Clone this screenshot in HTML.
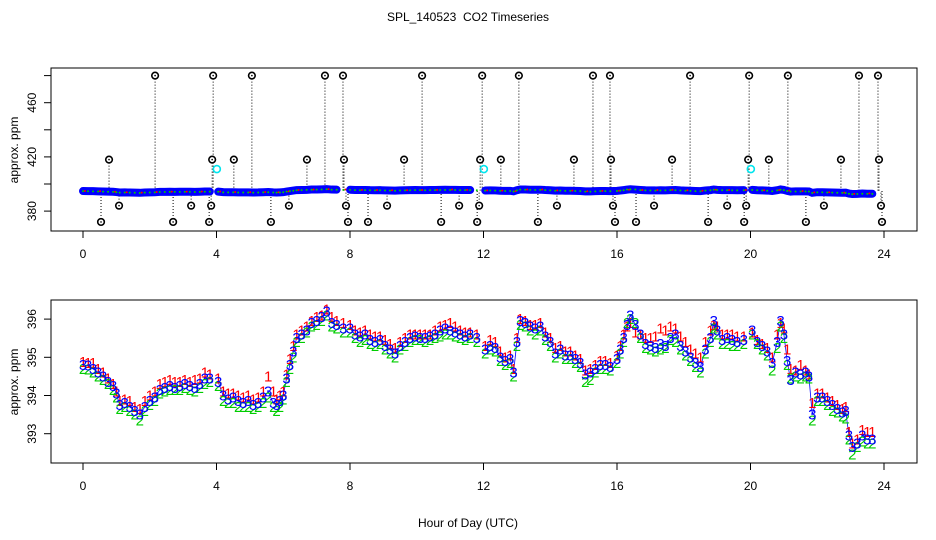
<!DOCTYPE html>
<html><head><meta charset="utf-8"><style>
html,body{margin:0;padding:0;background:#fff;}
svg{display:block;font-family:"Liberation Sans",sans-serif;}
</style></head><body>
<svg id="c" width="936" height="540" viewBox="0 0 936 540">
<text x="468" y="21" font-size="12" text-anchor="middle">SPL_140523&#160; CO2 Timeseries</text>
<text x="468" y="527" font-size="12" text-anchor="middle">Hour of Day (UTC)</text>
<text transform="translate(18,150) rotate(-90)" font-size="12" text-anchor="middle">approx. ppm</text>
<text transform="translate(18,382) rotate(-90)" font-size="12" text-anchor="middle">approx. ppm</text>
<g id="topPanel"></g>
<g id="botPanel"></g>
</svg>
<script>
const hours=[0,0.15,0.3,0.45,0.6,0.75,0.9,1.0,1.1,1.25,1.4,1.55,1.7,1.85,2.0,2.15,2.3,2.45,2.6,2.75,2.9,3.05,3.2,3.35,3.5,3.65,3.8,
4.05,4.2,4.35,4.5,4.65,4.8,4.95,5.1,5.25,5.4,5.55,5.7,5.8,5.9,6.0,6.1,6.2,6.3,6.4,6.55,6.7,6.85,7.0,7.15,7.3,7.45,7.6,7.8,
8.0,8.15,8.3,8.45,8.6,8.75,8.9,9.05,9.2,9.35,9.5,9.65,9.8,9.95,10.1,10.25,10.4,10.55,10.7,10.85,11.0,11.15,11.3,11.45,11.6,11.8,
12.05,12.2,12.35,12.5,12.65,12.8,12.9,13.0,13.1,13.25,13.4,13.55,13.7,13.85,14.0,14.15,14.3,14.45,14.6,14.75,14.9,15.05,15.2,15.35,15.5,15.65,15.8,
16.0,16.1,16.2,16.3,16.4,16.55,16.7,16.85,17.0,17.15,17.3,17.45,17.6,17.75,17.9,18.05,18.2,18.35,18.5,18.65,18.8,18.9,19.0,19.15,19.3,19.45,19.6,19.8,
20.05,20.2,20.35,20.5,20.65,20.8,20.9,21.0,21.1,21.2,21.35,21.5,21.65,21.75,21.85,22.0,22.15,22.3,22.45,22.6,22.75,22.85,22.95,23.05,23.2,23.35,23.5,23.65];
const sensor3=[394.8,394.78,394.7,394.6,394.5,394.35,394.25,394.05,393.75,393.8,393.7,393.6,393.5,393.7,393.85,393.95,394.15,394.2,394.25,394.2,394.25,394.3,394.25,394.2,394.3,394.45,394.45,
394.35,394.0,393.9,393.95,393.85,393.8,393.85,393.75,393.8,393.95,394.1,393.8,393.75,393.85,394.0,394.45,394.8,395.15,395.5,395.6,395.7,395.9,395.95,396.05,396.2,395.9,395.85,395.75,
395.75,395.6,395.55,395.6,395.45,395.4,395.45,395.3,395.2,395.1,395.3,395.4,395.5,395.55,395.5,395.5,395.55,395.6,395.7,395.75,395.7,395.65,395.6,395.55,395.6,395.5,
395.2,395.3,395.25,395.0,394.9,394.95,394.6,395.4,395.95,395.9,395.8,395.75,395.8,395.55,395.4,395.1,395.2,395.05,395.05,394.95,394.85,394.55,394.6,394.7,394.8,394.8,394.75,
394.95,395.2,395.5,395.85,396.1,395.85,395.6,395.35,395.3,395.25,395.35,395.3,395.5,395.6,395.3,395.15,395.0,394.85,394.75,395.2,395.5,395.95,395.7,395.45,395.5,395.45,395.4,395.45,
395.7,395.4,395.3,395.15,394.85,395.4,395.95,395.6,394.9,394.4,394.6,394.55,394.6,394.5,393.5,393.95,393.95,393.85,393.75,393.65,393.55,393.6,392.95,392.65,392.75,392.95,392.85,392.85];
const sensor1=[394.88,394.85,394.85,394.7,394.6,394.45,394.3,394.1,393.85,393.9,393.85,393.7,393.65,393.85,394.0,394.1,394.3,394.35,394.4,394.35,394.35,394.4,394.35,394.4,394.45,394.6,394.55,
394.45,394.1,394.05,394.05,394.0,393.95,394.0,393.9,393.95,394.1,394.5,394.1,393.9,394.0,394.1,394.55,394.95,395.3,395.6,395.7,395.8,395.95,396.05,396.1,396.25,396.05,395.95,395.9,
395.85,395.7,395.65,395.7,395.6,395.55,395.55,395.45,395.35,395.25,395.4,395.5,395.6,395.6,395.6,395.6,395.6,395.7,395.8,395.85,395.9,395.8,395.7,395.65,395.65,395.6,
395.3,395.45,395.4,395.15,395.0,395.05,394.7,395.5,396.0,395.95,395.85,395.85,395.9,395.65,395.5,395.25,395.3,395.15,395.15,395.05,394.95,394.65,394.7,394.8,394.9,394.9,394.85,
395.05,395.3,395.6,395.8,395.9,395.65,395.6,395.5,395.5,395.55,395.75,395.7,395.8,395.75,395.55,395.4,395.2,395.1,395.0,395.4,395.7,395.85,395.8,395.6,395.6,395.6,395.55,395.55,
395.65,395.45,395.35,395.25,395.0,395.6,395.9,395.75,395.2,394.7,394.65,394.8,394.65,394.55,393.8,394.05,394.05,393.95,393.85,393.75,393.65,393.7,393.05,392.75,392.85,393.1,393.05,393.05];
const sensor2=[394.7,394.68,394.6,394.5,394.4,394.3,394.15,393.95,393.65,393.7,393.6,393.5,393.35,393.6,393.75,393.85,394.05,394.1,394.15,394.15,394.15,394.2,394.15,394.1,394.2,394.3,394.35,
394.25,393.85,393.8,393.8,393.7,393.7,393.7,393.65,393.7,393.8,393.95,393.7,393.6,393.7,393.9,394.35,394.7,395.0,395.4,395.5,395.65,395.8,395.85,395.95,396.1,395.8,395.75,395.65,
395.65,395.5,395.4,395.45,395.35,395.3,395.35,395.2,395.1,395.0,395.2,395.3,395.4,395.45,395.45,395.4,395.45,395.5,395.55,395.6,395.6,395.55,395.5,395.45,395.5,395.4,
395.1,395.2,395.15,394.9,394.8,394.85,394.5,395.3,395.85,395.8,395.7,395.6,395.7,395.45,395.3,395.0,395.1,394.95,394.95,394.85,394.75,394.35,394.4,394.6,394.7,394.7,394.65,
394.85,395.1,395.4,395.9,396.0,395.9,395.5,395.25,395.2,395.15,395.2,395.25,395.45,395.4,395.2,395.05,394.9,394.75,394.6,395.1,395.4,395.75,395.6,395.35,395.35,395.3,395.3,395.35,
395.6,395.35,395.2,395.05,394.65,395.25,395.8,395.5,394.8,394.45,394.5,394.45,394.5,394.45,393.35,393.85,393.85,393.75,393.6,393.55,393.45,393.4,392.85,392.45,392.65,392.8,392.75,392.75];
const outlierHours=[2.16,3.9,5.06,7.25,7.79,10.16,11.96,13.06,15.28,15.79,18.19,19.96,21.12,23.25,23.82,
0.78,3.87,4.52,6.71,7.82,9.62,11.9,12.52,14.71,15.82,17.65,19.93,20.55,22.71,23.85,
1.08,3.24,3.84,6.17,7.88,9.11,11.27,11.87,14.2,15.88,17.11,19.3,19.87,22.2,23.91,
0.54,2.7,3.78,5.63,7.94,8.54,10.73,11.81,13.63,15.94,16.57,18.73,19.81,21.66,23.94];
const outlierValues=[480,480,480,480,480,480,480,480,480,480,480,480,480,480,480,
418,418,418,418,418,418,418,418,418,418,418,418,418,418,418,
384,384,384,384,384,384,384,384,384,384,384,384,384,384,384,
372,372,372,372,372,372,372,372,372,372,372,372,372,372,372];
const flagHours=[4.01,12.01,20.01];
const flagValues=[411,411,411];
const xTicks=[0,4,8,12,16,20,24];
const topYTicks=[380,400,420,440,460,480];
const topYLabels=["380","","420","","460",""];
const botYTicks=[393,394,395,396];

const NS="http://www.w3.org/2000/svg";
function mk(tag,attrs,parent){const e=document.createElementNS(NS,tag);for(const k in attrs)e.setAttribute(k,attrs[k]);parent.appendChild(e);return e;}
const xS=h=>83+h*33.375;
const yTop=v=>184-(v-400)*1.355;
const yBot=v=>357.3-(v-395)*38.2;
const topG=document.getElementById('topPanel'),botG=document.getElementById('botPanel');

function axes(g,y0,y1,yTicksArr,labels,ys,prefix){
  const box=mk('rect',{x:51,y:y0,width:866,height:y1-y0,fill:'none',stroke:'#000','stroke-width':1},g);
  
  
  xTicks.forEach(t=>{
    const l=mk('line',{x1:xS(t),x2:xS(t),y1:y1,y2:y1+7,stroke:'#000'},g);
    
    
    const tx=mk('text',{x:xS(t),y:y1+27,'font-size':12,'text-anchor':'middle'},g);
    tx.textContent=String(t);
    
    
  });
  yTicksArr.forEach((t,i)=>{
    const y=ys(t);
    const l=mk('line',{x1:44,x2:51,y1:y,y2:y,stroke:'#000'},g);
    
    
    if(labels[i]){
      const tx=mk('text',{transform:`translate(36,${y}) rotate(-90)`,'font-size':12,'text-anchor':'middle'},g);
      tx.textContent=labels[i];
      
      
    }
  });
}
axes(topG,68,231,topYTicks,topYLabels,yTop,'top');
axes(botG,300,463,botYTicks,botYTicks.map(String),yBot,'bottom');

function segments(){const s=[];let cur=[];hours.forEach((h,i)=>{if(i>0&&h-hours[i-1]>0.2){s.push(cur);cur=[];}cur.push(i);});s.push(cur);return s;}
const segs=segments();

outlierHours.forEach((h,i)=>{
  const l=mk('line',{x1:xS(h),x2:xS(h),y1:yTop(outlierValues[i]),y2:yTop(395),stroke:'#000','stroke-width':1,'stroke-dasharray':'1,2'},topG);
  
  
});
segs.forEach(s=>{
  const p=s.map(i=>xS(hours[i])+','+yTop(sensor3[i])).join(' ');
  const pl=mk('polyline',{points:p,fill:'none',stroke:'#0000ff','stroke-width':8,'stroke-linecap':'round'},topG);
  
  
});
hours.forEach((h,i)=>{
  const c=mk('circle',{cx:xS(h),cy:yTop(sensor2[i]),r:1,fill:'#00cd00'},topG);
  
  
  if(i%3===0){const r=mk('circle',{cx:xS(h)+2,cy:yTop(sensor1[i]),r:1,fill:'#ff0000'},topG);
  
  }
});
outlierHours.forEach((h,i)=>{
  const c=mk('circle',{cx:xS(h),cy:yTop(outlierValues[i]),r:3.3,fill:'#fff',stroke:'#000','stroke-width':1.6},topG);
  
  
  const d=mk('circle',{cx:xS(h),cy:yTop(outlierValues[i]),r:0.8,fill:'#000'},topG);
  
  
});
flagHours.forEach((h,i)=>{
  const c=mk('circle',{cx:xS(h),cy:yTop(flagValues[i]),r:3.5,fill:'none',stroke:'#00e5ee','stroke-width':1.6},topG);
  
  
});

segs.forEach(s=>{
  const p=s.map(i=>xS(hours[i])+','+yBot(sensor3[i])).join(' ');
  const pl=mk('polyline',{points:p,fill:'none',stroke:'#0000ff','stroke-width':0.8},botG);
  
  
});
const series=[[sensor1,'#ff0000','1'],[sensor2,'#00cd00','2'],[sensor3,'#0000ff','3']];
series.forEach(([vals,col,ch])=>{
  hours.forEach((h,i)=>{
    const t=mk('text',{x:xS(h),y:yBot(vals[i])+5,'font-size':15,'text-anchor':'middle',fill:col},botG);
    t.textContent=ch;
    
    
  });
});
</script>
</body></html>
